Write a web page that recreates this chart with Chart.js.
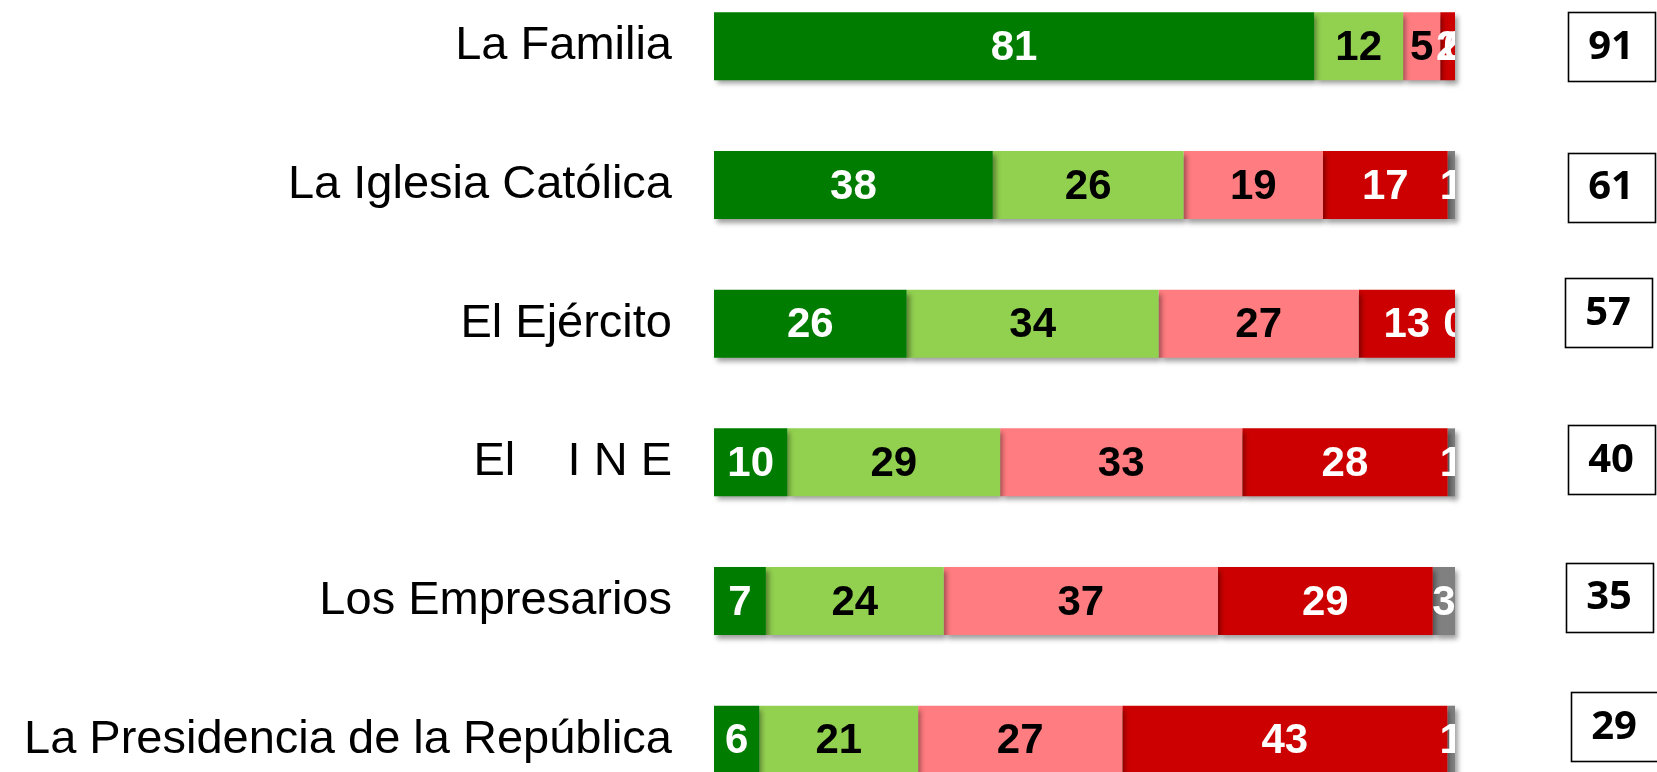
<!DOCTYPE html>
<html>
<head>
<meta charset="utf-8">
<script src="https://cdn.jsdelivr.net/npm/chart.js@4.4.1/dist/chart.umd.min.js"></script>
<style>
  html, body { margin: 0; padding: 0; background: #ffffff; }
  body { width: 1657px; height: 772px; overflow: hidden; position: relative; }
  #wrap { position: absolute; left: 0; top: -23px; width: 1657px; height: 832px; }
</style>
</head>
<body>
<div id="wrap"><canvas id="c" width="1657" height="832"></canvas></div>
<script>
// ---- data ----
const categories = ["La Familia", "La Iglesia Católica", "El Ejército", "El    I N E", "Los Empresarios", "La Presidencia de la República"];
const mucha      = [81, 38, 26, 10, 7, 6];
const algo       = [12, 26, 34, 29, 24, 21];
const poca       = [5, 19, 27, 33, 37, 27];
const nada       = [2, 17, 13, 28, 29, 43];
const nsnc       = [0, 1, 0, 1, 3, 1];
const totals     = [91, 61, 57, 40, 35, 29];

// ---- styles ----
const seriesDefs = [
  { name: "Mucha", values: mucha, color: "#007D00", text: "#ffffff" },
  { name: "Algo",  values: algo,  color: "#92D050", text: "#000000" },
  { name: "Poca",  values: poca,  color: "#FF7C80", text: "#000000" },
  { name: "Nada",  values: nada,  color: "#CC0000", text: "#ffffff" },
  { name: "NS/NC", values: nsnc,  color: "#808080", text: "#ffffff" }
];
const boxNudgeX = [0, 0, -3, 0, -2, 3];
const boxNudgeY = [0, 2, -11, -3, -4, -13];

// 100% stacked: each row normalised to its own total
const rowSums = categories.map((_, i) => seriesDefs.reduce((s, d) => s + d.values[i], 0));

const datasets = seriesDefs.map(d => ({
  label: d.name,
  data: d.values.map((v, i) => v / rowSums[i] * 100),
  backgroundColor: d.color,
  borderWidth: 0,
  categoryPercentage: 1,
  barPercentage: 0.49,
  clip: false
}));

const barShadowAndLabels = {
  id: "barShadowAndLabels",
  beforeDatasetsDraw(chart) {
    const ctx = chart.ctx;
    ctx.save();
    ctx.shadowColor = "rgba(0,0,0,0.38)";
    ctx.shadowBlur = 5;
    ctx.shadowOffsetX = 3;
    ctx.shadowOffsetY = 4;
  },
  afterDatasetsDraw(chart) {
    const ctx = chart.ctx;
    ctx.restore();
    const area = chart.chartArea;
    ctx.save();
    ctx.beginPath();
    ctx.rect(area.left, area.top, area.right - area.left, area.bottom - area.top);
    ctx.clip();
    ctx.font = "bold 42px 'Liberation Sans', Arial, sans-serif";
    ctx.textAlign = "center";
    ctx.textBaseline = "middle";
    seriesDefs.forEach((d, di) => {
      const meta = chart.getDatasetMeta(di);
      meta.data.forEach((bar, i) => {
        const cx = (bar.x + bar.base) / 2;
        ctx.fillStyle = d.text;
        ctx.fillText(String(d.values[i]), cx, bar.y + 2);
      });
    });
    ctx.restore();
  },
  afterDraw(chart) {
    const ctx = chart.ctx;
    const yScale = chart.scales.y;
    const w = 87, h = 69;
    ctx.save();
    ctx.font = "bold 40px 'Open Sans', 'Liberation Sans', sans-serif";
    ctx.textAlign = "center";
    ctx.textBaseline = "middle";
    totals.forEach((t, i) => {
      const cx = 1611 + boxNudgeX[i];
      const cy = yScale.getPixelForValue(i) + boxNudgeY[i];
      ctx.lineWidth = 1.6;
      ctx.strokeStyle = "#000000";
      ctx.strokeRect(Math.round(cx - w / 2) + 0.5, Math.round(cy - h / 2) + 0.5, w, h);
      ctx.fillStyle = "#000000";
      ctx.fillText(String(t), cx, cy + 1);
    });
    ctx.restore();
  }
};

new Chart(document.getElementById("c"), {
  type: "bar",
  data: { labels: categories, datasets },
  options: {
    indexAxis: "y",
    responsive: false,
    animation: false,
    layout: { padding: { left: 0, right: 202, top: 0, bottom: 0 } },
    plugins: { legend: { display: false }, tooltip: { enabled: false } },
    scales: {
      x: { stacked: true, min: 0, max: 100, display: false },
      y: {
        stacked: true,
        grid: { display: false, drawTicks: false },
        border: { display: false },
        ticks: {
          color: "#000000",
          padding: 42,
          font: { family: "'Liberation Sans', Arial, sans-serif", size: 47 }
        },
        afterFit(scale) {
          scale.width = 714;
          scale.paddingTop = 0;
          scale.paddingBottom = 0;
        }
      }
    }
  },
  plugins: [barShadowAndLabels]
});
</script>
</body>
</html>
